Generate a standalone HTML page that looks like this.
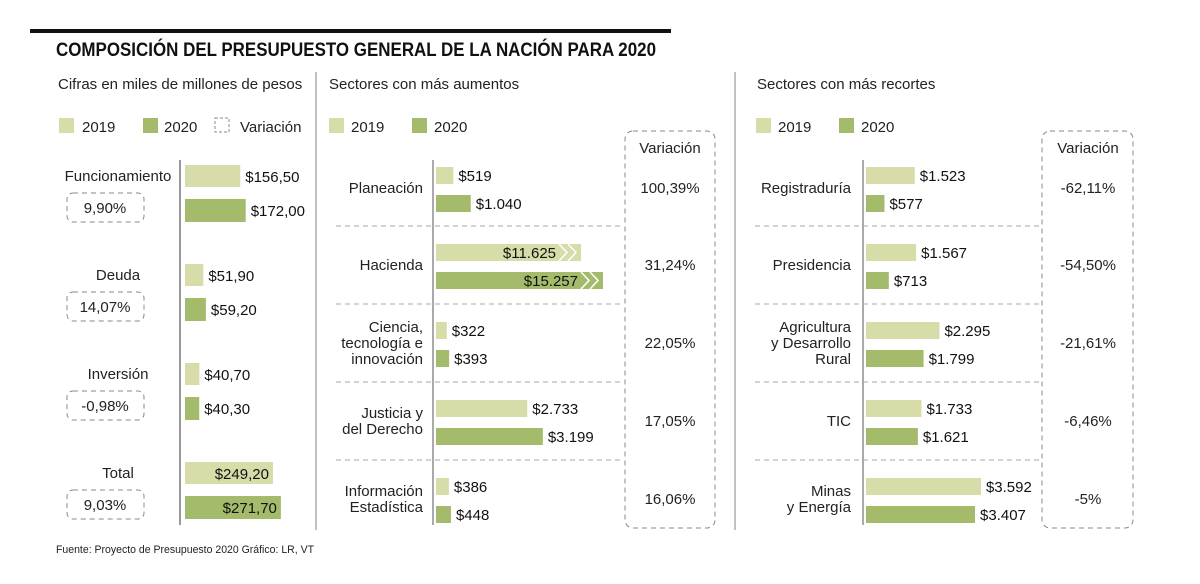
<!DOCTYPE html>
<html><head><meta charset="utf-8">
<style>
body{margin:0;background:#fff;}
svg{display:block;font-family:"Liberation Sans",sans-serif;}
</style></head>
<body>
<svg id="c" width="1200" height="584" viewBox="0 0 1200 584" xmlns="http://www.w3.org/2000/svg">
<rect x="30" y="29" width="641" height="4" fill="#111"/>
<text x="56" y="56" font-size="19" font-weight="bold" fill="#111" textLength="600" lengthAdjust="spacingAndGlyphs">COMPOSICIÓN DEL PRESUPUESTO GENERAL DE LA NACIÓN PARA 2020</text>
<text x="58" y="89" font-size="15" fill="#222">Cifras en miles de millones de pesos</text>
<text x="329" y="89" font-size="15" fill="#222">Sectores con más aumentos</text>
<text x="757" y="89" font-size="15" fill="#222">Sectores con más recortes</text>
<line x1="316" y1="72" x2="316" y2="530" stroke="#999" stroke-width="1.2"/>
<line x1="735" y1="72" x2="735" y2="530" stroke="#999" stroke-width="1.2"/>
<g>
<rect x="59" y="118" width="15" height="15" fill="#d7dca8"/><text x="82" y="132" font-size="15" fill="#222">2019</text>
<rect x="143" y="118" width="15" height="15" fill="#a5bb6c"/><text x="164" y="132" font-size="15" fill="#222">2020</text>
<rect x="215" y="118" width="14" height="14" fill="none" stroke="#888" stroke-dasharray="3,2"/><text x="240" y="132" font-size="15" fill="#222">Variación</text>
</g>
<g>
<rect x="329" y="118" width="15" height="15" fill="#d7dca8"/><text x="351" y="132" font-size="15" fill="#222">2019</text>
<rect x="412" y="118" width="15" height="15" fill="#a5bb6c"/><text x="434" y="132" font-size="15" fill="#222">2020</text>
</g>
<g>
<rect x="756" y="118" width="15" height="15" fill="#d7dca8"/><text x="778" y="132" font-size="15" fill="#222">2019</text>
<rect x="839" y="118" width="15" height="15" fill="#a5bb6c"/><text x="861" y="132" font-size="15" fill="#222">2020</text>
</g>
<rect x="625" y="131" width="90" height="397" rx="8" fill="none" stroke="#888" stroke-dasharray="5,4"/>
<rect x="1042" y="131" width="91" height="397" rx="8" fill="none" stroke="#888" stroke-dasharray="5,4"/>
<text x="670" y="153" font-size="15" text-anchor="middle" fill="#222">Variación</text>
<text x="1088" y="153" font-size="15" text-anchor="middle" fill="#222">Variación</text>
<line x1="180" y1="160" x2="180" y2="525" stroke="#999" stroke-width="2"/>
<line x1="433" y1="160" x2="433" y2="525" stroke="#aaa" stroke-width="2"/>
<line x1="863" y1="160" x2="863" y2="525" stroke="#aaa" stroke-width="2"/>
<text x="56" y="553" font-size="11" fill="#222" textLength="258" lengthAdjust="spacingAndGlyphs">Fuente: Proyecto de Presupuesto 2020 Gráfico: LR, VT</text>
<g id="marks"></g>
</svg>
<script>
const leftCats = ["Funcionamiento","Deuda","Inversión","Total"];
const left2019 = [156.50, 51.90, 40.70, 249.20];
const left2020 = [172.00, 59.20, 40.30, 271.70];
const leftVar = ["9,90%","14,07%","-0,98%","9,03%"];

const midCats = [["Planeación"],["Hacienda"],["Ciencia,","tecnología e","innovación"],["Justicia y","del Derecho"],["Información","Estadística"]];
const mid2019 = [519, 11625, 322, 2733, 386];
const mid2020 = [1040, 15257, 393, 3199, 448];
const midVar = ["100,39%","31,24%","22,05%","17,05%","16,06%"];

const rightCats = [["Registraduría"],["Presidencia"],["Agricultura","y Desarrollo","Rural"],["TIC"],["Minas","y Energía"]];
const right2019 = [1523, 1567, 2295, 1733, 3592];
const right2020 = [577, 713, 1799, 1621, 3407];
const rightVar = ["-62,11%","-54,50%","-21,61%","-6,46%","-5%"];

const NS="http://www.w3.org/2000/svg";
const g=document.getElementById('marks');
const C1="#d7dca8", C2="#a5bb6c";
function el(t,a,txt){const e=document.createElementNS(NS,t);for(const k in a)e.setAttribute(k,a[k]);if(txt!=null)e.textContent=txt;g.appendChild(e);return e;}
function fmtDot(v){return "$"+v.toLocaleString('de-DE');}
function fmtComma(v){return "$"+v.toFixed(2).replace('.',',');}

const xL = v => v*0.353;
const leftY=[176,275,374,473];
leftCats.forEach((c,i)=>{
  const y=leftY[i];
  let t=el('text',{x:118,y:y+5,'font-size':15,'text-anchor':'middle',fill:'#222'},c);
  
  
  let b=el('rect',{x:67,y:y+17,width:77,height:29,rx:6,fill:'none',stroke:'#888','stroke-dasharray':'5,4'});
  
  
  let vt=el('text',{x:105,y:y+37,'font-size':15,'text-anchor':'middle',fill:'#222'},leftVar[i]);
  
  
  const w1=xL(left2019[i]), w2=xL(left2020[i]);
  const total = i===3;
  let r1=el('rect',{x:185,y:y-11,width:w1,height:22,fill:C1});
  
  
  let r2=el('rect',{x:185,y:y+23,width:w2,height:23,fill:C2});
  
  
  let l1=el('text',{x:total?185+w1-4:185+w1+5,y:y+6,'font-size':15,'text-anchor':total?'end':'start',fill:'#111'},fmtComma(left2019[i]));
  
  
  let l2=el('text',{x:total?185+w2-4:185+w2+5,y:y+40,'font-size':15,'text-anchor':total?'end':'start',fill:'#111'},fmtComma(left2020[i]));
  
  
});

const rowY=[188,265,343,421,499];
function panel(cats,v19,v20,vars,x0,scale,labelX,varX,sepX1,sepX2,prefix){
  const wOf = v => v>6000 ? 145+(v-11625)*0.00606 : v*scale;
  cats.forEach((lines,i)=>{
    const c=rowY[i];
    if(i>0){
      let s=el('line',{x1:sepX1,y1:c-39,x2:sepX2,y2:c-39,stroke:'#aaa','stroke-dasharray':'5,4'});
      
      
    }
    const n=lines.length, lh=16;
    lines.forEach((ln,j)=>{
      let t=el('text',{x:labelX,y:c+5+(j-(n-1)/2)*lh,'font-size':15,'text-anchor':'end',fill:'#222'},ln);
      
      
    });
    const w1=wOf(v19[i]), w2=wOf(v20[i]);
    const broken = v19[i]>6000;
    let r1=el('rect',{x:x0,y:c-21,width:w1,height:17,fill:C1});
    
    
    let r2=el('rect',{x:x0,y:c+7,width:w2,height:17,fill:C2});
    
    
    if(broken){
      [[w1,c-21],[w2,c+7]].forEach(([w,yy],k)=>{
        let z=el('polyline',{points:`${x0+w-22},${yy} ${x0+w-14},${yy+8.5} ${x0+w-22},${yy+17}`,fill:'none',stroke:'#fff','stroke-width':1.5});
        
        
        let z2=el('polyline',{points:`${x0+w-13},${yy} ${x0+w-5},${yy+8.5} ${x0+w-13},${yy+17}`,fill:'none',stroke:'#fff','stroke-width':1.5});
        
        
      });
    }
    let l1=el('text',{x:broken?x0+w1-25:x0+w1+5,y:c-7,'font-size':15,'text-anchor':broken?'end':'start',fill:'#111'},fmtDot(v19[i]));
    
    
    let l2=el('text',{x:broken?x0+w2-25:x0+w2+5,y:c+21,'font-size':15,'text-anchor':broken?'end':'start',fill:'#111'},fmtDot(v20[i]));
    
    
    let vt=el('text',{x:varX,y:c+5,'font-size':15,'text-anchor':'middle',fill:'#222'},vars[i]);
    
    
  });
}
panel(midCats,mid2019,mid2020,midVar,436,0.0334,423,670,336,620,'mid');
panel(rightCats,right2019,right2020,rightVar,866,0.032,851,1088,755,1040,'right');
</script>
</body></html>
